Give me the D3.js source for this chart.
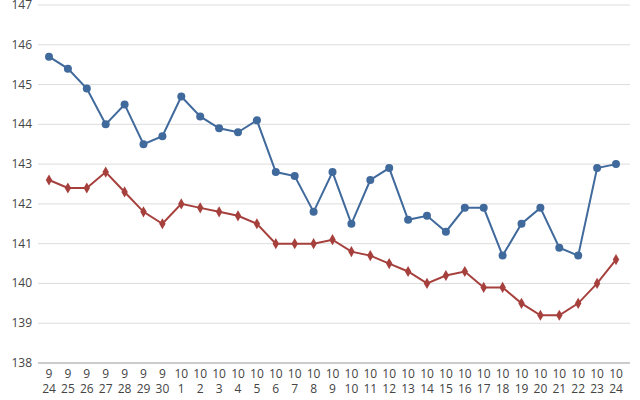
<!DOCTYPE html><html><head><meta charset="utf-8">
<script src="https://cdn.jsdelivr.net/npm/d3@7"></script>
<style>body{margin:0;background:#fff}text{font-family:"Open Sans",sans-serif;fill:#444;font-size:12px}</style>
</head><body><svg width="640" height="400"></svg><script>
const months=[9,9,9,9,9,9,9,10,10,10,10,10,10,10,10,10,10,10,10,10,10,10,10,10,10,10,10,10,10,10,10];
const days=[24,25,26,27,28,29,30,1,2,3,4,5,6,7,8,9,10,11,12,13,14,15,16,17,18,19,20,21,22,23,24];
const blue=[145.7,145.4,144.9,144.0,144.5,143.5,143.7,144.7,144.2,143.9,143.8,144.1,142.8,142.7,141.8,142.8,141.5,142.6,142.9,141.6,141.7,141.3,141.9,141.9,140.7,141.5,141.9,140.9,140.7,142.9,143.0];
const red=[142.6,142.4,142.4,142.8,142.3,141.8,141.5,142.0,141.9,141.8,141.7,141.5,141.0,141.0,141.0,141.1,140.8,140.7,140.5,140.3,140.0,140.2,140.3,139.9,139.9,139.5,139.2,139.2,139.5,140.0,140.6];
const yTicks=[138,139,140,141,142,143,144,145,146,147];
const svg=d3.select("svg");
const L=38,R=630,T=5,B=363;
const x=d3.scalePoint().domain(d3.range(days.length)).range([49,616]);
const y=d3.scaleLinear().domain([138,147]).range([B,T]);
svg.selectAll(".g").data(yTicks).join("line").attr("x1",L).attr("x2",R).attr("y1",d=>y(d)).attr("y2",d=>y(d)).attr("stroke",d=>d==138?"#999":"#ddd");
svg.selectAll(".yl").data(yTicks).join("text").attr("x",32).attr("y",d=>y(d)+4).attr("text-anchor","end").text(d=>d);
const xl=svg.selectAll(".xl").data(days).join("text").attr("text-anchor","middle");
xl.append("tspan").attr("x",(d,i)=>x(i)).attr("y",378).text((d,i)=>months[i]);
xl.append("tspan").attr("x",(d,i)=>x(i)).attr("y",393).text(d=>d);
const line=d3.line().x((d,i)=>x(i)).y(d=>y(d));
svg.append("path").datum(red).attr("d",line).attr("fill","none").attr("stroke","#a6403d").attr("stroke-width",2);
svg.append("path").datum(blue).attr("d",line).attr("fill","none").attr("stroke","#40699c").attr("stroke-width",2);
svg.selectAll(".rm").data(red).join("path").attr("d",d3.symbol(d3.symbolDiamond,36)).attr("transform",(d,i)=>`translate(${x(i)},${y(d)})`).attr("fill","#a6403d");
svg.selectAll(".bm").data(blue).join("circle").attr("cx",(d,i)=>x(i)).attr("cy",d=>y(d)).attr("r",4).attr("fill","#40699c");
</script></body></html>
